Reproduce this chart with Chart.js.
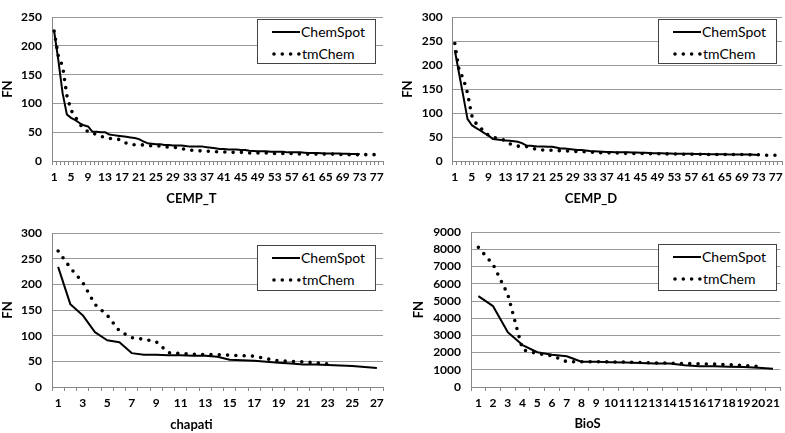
<!DOCTYPE html>
<html><head><meta charset="utf-8">
<script src="https://cdn.jsdelivr.net/npm/chart.js@4"></script>
<style>
html,body{margin:0;padding:0;width:785px;height:433px;overflow:hidden;background:#fff;}
canvas{position:absolute;}
.legend{position:absolute;border:1px solid #444;background:#fff;box-sizing:border-box;font-family:Lato,sans-serif;font-size:14px;color:#000;}
.legend .row{position:absolute;left:0;height:16px;line-height:16px;white-space:nowrap;}
.legend svg{position:absolute;left:0;top:0;}
.legend span{position:absolute;top:0;}
</style>
</head><body>
<script>
// ---- categories ----
const cempCategories = ['1','2','3','4','5','6','7','8','9','10','11','12','13','14','15','16','17','18','19','20','21','22','23','24','25','26','27','28','29','30','31','32','33','34','35','36','37','38','39','40','41','42','43','44','45','46','47','48','49','50','51','52','53','54','55','56','57','58','59','60','61','62','63','64','65','66','67','68','69','70','71','72','73','74','75','76','77','78'];
const chapatiCategories = ['1','2','3','4','5','6','7','8','9','10','11','12','13','14','15','16','17','18','19','20','21','22','23','24','25','26','27'];
const biosCategories = ['1','2','3','4','5','6','7','8','9','10','11','12','13','14','15','16','17','18','19','20','21'];

// ---- tick labels shown ----
const cempTickLabels = ['1','5','9','13','17','21','25','29','33','37','41','45','49','53','57','61','65','69','73','77'];
const chapatiTickLabels = ['1','3','5','7','9','11','13','15','17','19','21','23','25','27'];
const biosTickLabels = ['1','2','3','4','5','6','7','8','9','10','11','12','13','14','15','16','17','18','19','20','21'];

// ---- series ----
const seriesNames = ['ChemSpot','tmChem'];

const cempTChemSpot = [226,175,118,81,75,71,66,62,60,51,51,50,50,46,45,44,43,42,41,40,38,34,31,30,29,29,28,28,27,27,27,26,25,25,25,25,24,23,22,21,21,20,20,20,19,19,18,17.5,17,17,17,16,16,16,16,15,15,15,15,14.5,14,14,14,13.5,13,13,13,13,12.5,12.5,12,12,12];
const cempTTmChem = [226,182,165,114,88,77,64,57,51,50,45,43,41,39,39,38,36,31,29,28,28,28,27,26.5,26,26,25,24,24,23,22,20,19,18,18,17,17,17,16,16,16,15,15,15,15,15,14,14,14,14,14,14,13,13,13,13,13,13,12,12,12,12,12,12,12,12,12,12,11,11,11,11,11,11,11,11,11];

const cempDChemSpot = [231,183,136,88,75,69,64,58,53,46,45,44,43,42,41,40,37,32,32,31,30,30,29.5,29.5,28,26,26,25,24,23,23,22,21,20.5,20,19.5,19,19,18.5,18,18,18,17.5,17.5,17,17,16.5,16,16,16,15.5,15.5,15,15,15,15,15,14.5,14.5,14.5,14,14,14,14,14,13.5,13.5,13.5,13.5,13.5,13.5,13,12.5];
const cempDTmChem = [245,190,172,142,95,79,71,59,54,50,47,45,43,36,32.5,31,30.5,30,28.5,25,23,23,22.7,22.5,22,21.5,21,21,20,20,19.5,19,18.5,18,17.5,17,17,17,17,16.5,16,16,16,15.5,15.5,15.5,15.5,15,15,15,15,14.5,14.5,14.5,14,14,14,14,14,14,13.5,13.5,13.5,13.5,13.5,13.5,13.5,13.5,13.5,13.5,13,13,13,12.5,12,12,12];

const chapatiChemSpot = [234,161,140,107,91,87,66,63,63,62,62,61,61,59,53,52,51,49,47,46,44,44,43,42,41,39,37];
const chapatiTmChem = [265,232,204,161,140,109,96,93,88,67,65,64,63,63,62,61,60,55,51,50,49,47,45];

const biosChemSpot = [5280,4700,3180,2440,2020,1880,1790,1470,1470,1440,1420,1390,1370,1370,1260,1200,1200,1180,1160,1120,1060];
const biosTmChem = [8120,7120,5380,2170,1940,1820,1470,1470,1470,1460,1450,1420,1400,1390,1360,1350,1330,1300,1250,1200];

const FONT = 'Lato, "Open Sans", sans-serif';

function addCanvas(left, top, w, h) {
  const c = document.createElement('canvas');
  c.width = w; c.height = h;
  c.style.left = left + 'px'; c.style.top = top + 'px';
  c.style.width = w + 'px'; c.style.height = h + 'px';
  document.body.appendChild(c);
  return c;
}

function addLegend(left, top, w, h) {
  const d = document.createElement('div');
  d.className = 'legend';
  d.style.left = left + 'px'; d.style.top = top + 'px';
  d.style.width = w + 'px'; d.style.height = h + 'px';
  const rows = [
    {y: 4, svg: '<svg width="44" height="16"><line x1="14" y1="8" x2="42" y2="8" stroke="#000" stroke-width="2"/></svg>'},
    {y: 26, svg: '<svg width="44" height="16"><line x1="16" y1="8" x2="41" y2="8" stroke="#000" stroke-width="3.6" stroke-linecap="round" stroke-dasharray="0 8.3"/></svg>'}
  ];
  rows.forEach((r, i) => {
    const row = document.createElement('div');
    row.className = 'row';
    row.style.top = r.y + 'px';
    row.style.width = w + 'px';
    row.innerHTML = r.svg + '<span style="left:' + (i === 0 ? 43 : 44) + 'px">' + seriesNames[i] + '</span>';
    d.appendChild(row);
  });
  document.body.appendChild(d);
}

function makeChart(o) {
  const canvas = addCanvas(o.left, o.top, o.w, o.h);
  new Chart(canvas, {
    type: 'line',
    data: {
      labels: o.categories,
      datasets: [
        {label: seriesNames[0], data: o.s1, borderColor: '#000', backgroundColor: '#000', borderWidth: 2, pointRadius: 0, tension: 0, fill: false, borderJoinStyle: 'round'},
        {label: seriesNames[1], data: o.s2, borderColor: '#000', backgroundColor: '#000', borderWidth: 3.6, borderDash: [0, 8.3], borderCapStyle: 'round', pointRadius: 0, tension: 0, fill: false}
      ]
    },
    options: {
      responsive: false, animation: false, devicePixelRatio: 1,
      layout: {padding: {top: o.padTop, right: o.padRight, left: 0, bottom: 0}},
      plugins: {
        legend: {display: false}, tooltip: {enabled: false},
        title: {display: true, position: 'bottom', text: o.xTitle, color: '#000',
          font: {family: FONT, weight: 'bold', size: 13}, padding: {top: 0, bottom: o.titlePadBottom}}
      },
      scales: {
        x: {
          type: 'category', offset: true,
          grid: {display: true, drawOnChartArea: false, drawTicks: true, tickLength: 4, color: '#888', offset: true},
          border: {display: true, color: '#888', width: 1},
          ticks: {autoSkip: false, maxRotation: 0, minRotation: 0, padding: 5, color: '#000',
            font: {family: FONT, weight: 'bold', size: 12},
            callback: function (v) { const l = this.getLabelForValue(v); return o.tickLabels.includes(l) ? l : ''; }},
          afterFit: s => { s.height = o.xHeight; }
        },
        y: {
          min: 0, max: o.yMax,
          grid: {color: '#999', drawTicks: false, lineWidth: 1},
          border: {display: true, color: '#888', width: 1},
          ticks: {stepSize: o.yStep, autoSkip: false, padding: 10, color: '#000', font: {family: FONT, weight: 'bold', size: 12},
            callback: v => String(v)},
          title: {display: true, text: 'FN', color: '#000', font: {family: FONT, weight: 'bold', size: 13}, padding: {top: o.fnPad, bottom: 0}},
          afterFit: s => { s.width = o.yWidth; }
        }
      }
    }
  });
  addLegend(o.lg[0], o.lg[1], o.lg[2], o.lg[3]);
}

makeChart({left: 0, top: 0, w: 398, h: 215, padTop: 7, padRight: 15, yWidth: 52, xHeight: 30.4, titlePadBottom: 8, fnPad: 0,
  categories: cempCategories, tickLabels: cempTickLabels, s1: cempTChemSpot, s2: cempTTmChem, yMax: 250, yStep: 50, xTitle: 'CEMP_T', lg: [257, 19, 119, 45]});
makeChart({left: 400, top: 0, w: 405, h: 215, padTop: 7, padRight: 23, yWidth: 52.7, xHeight: 30.4, titlePadBottom: 8, fnPad: 0,
  categories: cempCategories, tickLabels: cempTickLabels, s1: cempDChemSpot, s2: cempDTmChem, yMax: 300, yStep: 50, xTitle: 'CEMP_D', lg: [658, 19, 119, 45]});
makeChart({left: 0, top: 215, w: 394, h: 218, padTop: 18, padRight: 11, yWidth: 52, xHeight: 30.4, titlePadBottom: 0, fnPad: 0,
  categories: chapatiCategories, tickLabels: chapatiTickLabels, s1: chapatiChemSpot, s2: chapatiTmChem, yMax: 300, yStep: 50, xTitle: 'chapati', lg: [257, 245, 119, 46]});
makeChart({left: 392, top: 215, w: 393, h: 218, padTop: 17, padRight: 2, yWidth: 79, xHeight: 29.4, titlePadBottom: 1, fnPad: 19,
  categories: biosCategories, tickLabels: biosTickLabels, s1: biosChemSpot, s2: biosTmChem, yMax: 9000, yStep: 1000, xTitle: 'BioS', lg: [658, 244, 119, 47]});
</script>
</body></html>
